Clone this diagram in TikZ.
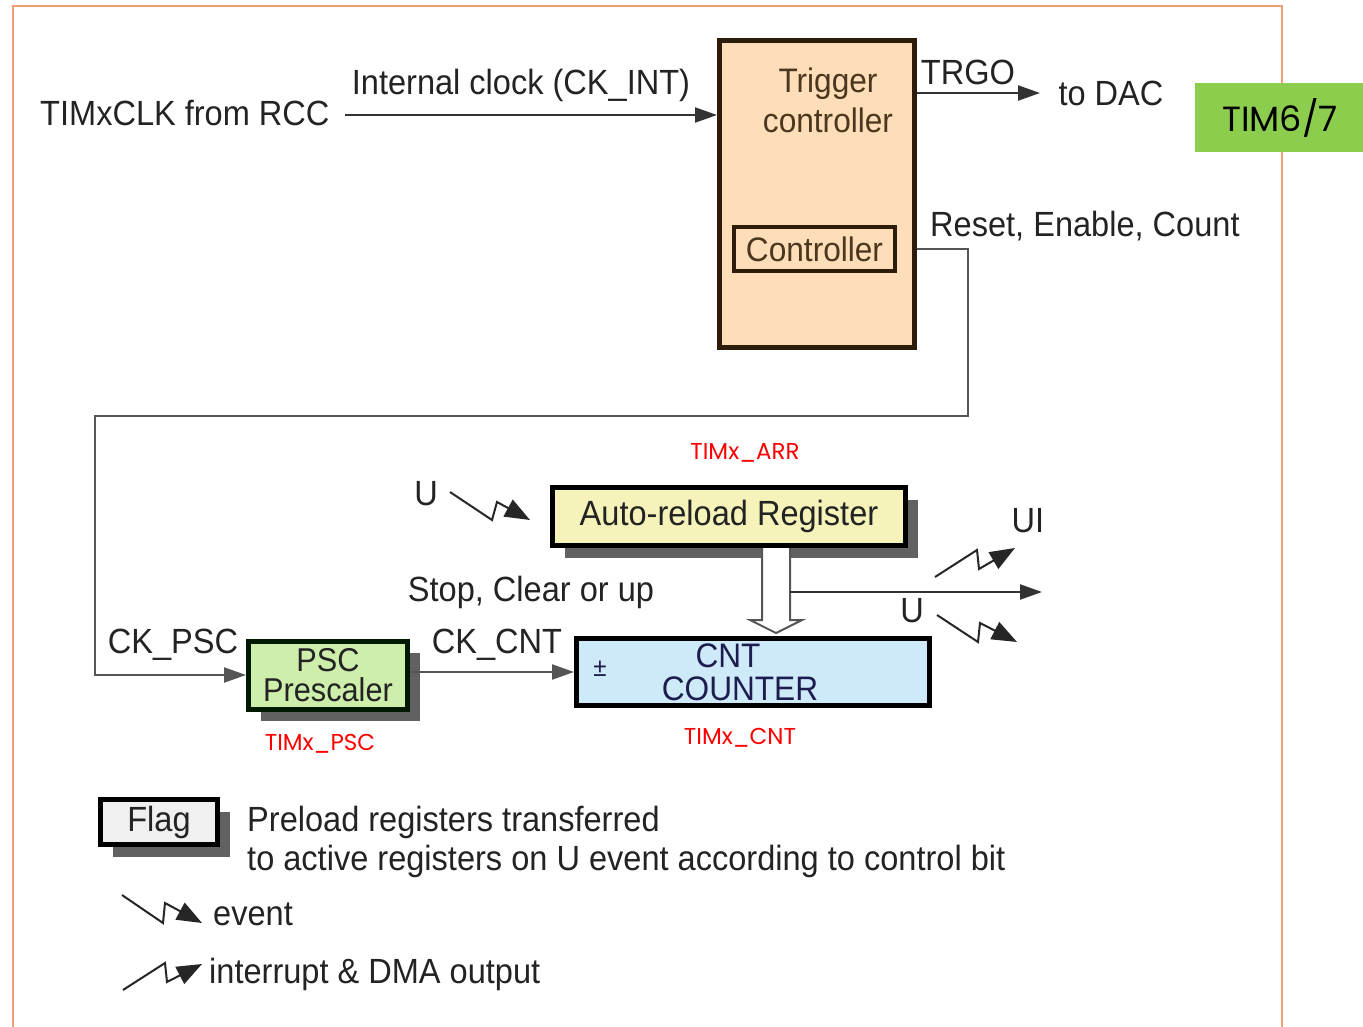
\documentclass[tikz,border=0pt]{standalone}
\usepackage{fontspec}
\setmainfont{Liberation Sans}[FakeStretch=0.93]
\newfontfamily\geo{Poppins}
\usetikzlibrary{arrows.meta,shadows,calc}
\definecolor{framec}{RGB}{240,160,118}
\definecolor{peach}{RGB}{253,222,184}
\definecolor{brownd}{RGB}{45,28,10}
\definecolor{brownt}{RGB}{75,55,30}
\definecolor{arrfill}{RGB}{246,243,186}
\definecolor{pscfill}{RGB}{206,238,172}
\definecolor{cntfill}{RGB}{206,234,248}
\definecolor{flagfill}{RGB}{240,240,240}
\definecolor{tgreen}{RGB}{141,205,78}
\definecolor{txtc}{RGB}{35,35,35}
\definecolor{linec}{RGB}{85,85,85}
\begin{document}
\begin{tikzpicture}[x=1pt,y=-1pt,
  txt/.style={font=\fontsize{35}{37}\selectfont, text=txtc, inner sep=0pt},
  redlbl/.style={font=\geo\fontsize{23}{24}\selectfont, text=red, inner sep=0pt},
  blk/.style={draw=black, line width=5pt, inner sep=0pt, font=\fontsize{35}{29}\selectfont, text=txtc, align=center},
  shad/.style={drop shadow={shadow xshift=12pt, shadow yshift=-12pt, fill=black!62, opacity=1}},
  conn/.style={draw=linec, line width=2.2pt},
  tip/.style={-{Triangle[length=22pt,width=15pt]}},
  zz/.style={draw=black!85, line width=2pt, line join=miter, -{Triangle[length=25pt,width=19pt]}}]
\useasboundingbox (0,0) rectangle (1363,1027);
% frame
\draw[framec, line width=2.5pt] (13,1040) -- (13,6) -- (1282,6) -- (1282,1040);
% label
\node[fill=tgreen, minimum width=171pt, minimum height=69pt, inner sep=0pt, font=\geo\fontsize{35}{36}\selectfont, text=black] (tim) at (1280,117.5) {TIM6/7};

% trigger controller
\node[blk, draw=brownd, fill=peach, minimum width=195pt, minimum height=307pt] (tc) at (817,194) {};
\node[inner sep=0pt, font=\fontsize{34}{40}\selectfont, text=brownt, align=center] (tctxt) at (828,100) {Trigger\\controller};
\node[blk, draw=brownd, line width=4pt, text=brownt, font=\fontsize{34}{32}\selectfont, minimum width=161pt, minimum height=44pt] (ctrl) at (814.5,249) {Controller};

% input clock
\node[txt, anchor=west] (clk) at (40,113) {TIMxCLK from RCC};
\node[txt] (intclk) at (521,85) {Internal clock (CK\_INT)};
\coordinate (clkst) at (345,115);
\draw[conn, draw=black!80, tip] (clkst) -- (clkst -| tc.west);

% TRGO
\coordinate (trgo) at ($(tc.north east)+(0,55)$);
\coordinate (dacend) at (1040,93);
\draw[conn, draw=black!80, tip] (trgo) -- (dacend);
\node[txt] (trgol) at (968,72) {TRGO};
\node[txt] (dac) at (1111,93) {to DAC};
\node[txt, anchor=west] (rec) at (930,226) {Reset, Enable, Count};

% boxes
\node[blk, fill=arrfill, shad, minimum width=353pt, minimum height=58pt] (arr) at (729,516.5) {Auto-reload Register};
\node[blk, fill=pscfill, draw=black!90!green, shad, font=\fontsize{33}{30}\selectfont, minimum width=159pt, minimum height=68pt] (psc) at (328,675) {PSC\\Prescaler};
\node[blk, fill=cntfill, minimum width=353pt, minimum height=67pt] (cnt) at (753,672) {};
\node[inner sep=0pt, font=\fontsize{34}{33}\selectfont, text=txtc!80!blue, align=center] (cnttxt) at (728,672) {CNT\\\hspace*{24pt}COUNTER};
\node[inner sep=0pt, font=\fontsize{26}{26}\selectfont, text=txtc!80!blue] (pm) at (600,669) {±};

% reset/enable/count route
\draw[conn, tip] (ctrl -| tc.east) -- ++(51,0) |- (95,416) |- (psc.west);
\node[txt] (ckpsc) at (173,645) {CK\_PSC};
\draw[conn, tip] (psc.east |- cnt.west) -- (cnt.west);
\node[txt] (ckcnt) at (497,645) {CK\_CNT};

% hollow transfer arrow
\coordinate (ha) at (762,548);
\coordinate (hb) at (790,548);
\draw[draw=linec, line width=2pt, fill=white, line join=miter]
  (ha) -- (762,620) -- (750,620) -- (776,633) -- (802,620) -- (790,620) -- (hb);
\coordinate (scst) at (790,592);
\coordinate (scend) at (1042,592);
\draw[conn, draw=black!80, tip] (scst) -- (scend);
\node[txt] (scu) at (531,592) {Stop, Clear or up};

% event/interrupt symbols
\coordinate (ev1) at (450,492);
\draw[zz] (ev1) -- ++(42,28) -- ++(5,-18) -- ++(33,18);
\node[txt] (u1) at (426,494) {U};
\coordinate (it1) at (935,577);
\draw[zz] (it1) -- ++(42,-27) -- ++(2,19) -- ++(36,-21);
\node[txt] (ui) at (1028,521) {UI};
\coordinate (ev2) at (937,615);
\draw[zz] (ev2) -- ++(41,27) -- ++(2,-19) -- ++(37,19);
\node[txt] (u2) at (912,611) {U};

% red register labels
\node[redlbl] (arrl) at (745,453) {TIMx\_ARR};
\node[redlbl] (pscl) at (320,744) {TIMx\_PSC};
\node[redlbl] (cntl) at (740,738) {TIMx\_CNT};

% legend
\node[blk, fill=flagfill, shad, minimum width=117pt, minimum height=45pt] (flag) at (159,822) {Flag};
\node[txt, anchor=west] (pre1) at (247,822) {Preload registers transferred};
\node[txt, anchor=west] (pre2) at (247,861) {to active registers on U event according to control bit};
\coordinate (ev3) at (122,895);
\draw[zz] (ev3) -- ++(41,28) -- ++(2,-20) -- ++(37,20);
\node[txt, anchor=west] (evl) at (213,914) {event};
\coordinate (it3) at (123,990);
\draw[zz] (it3) -- ++(42,-27) -- ++(2,19) -- ++(35,-18);
\node[txt, anchor=west] (itl) at (209,974) {interrupt \& DMA output};
\end{tikzpicture}
\end{document}
